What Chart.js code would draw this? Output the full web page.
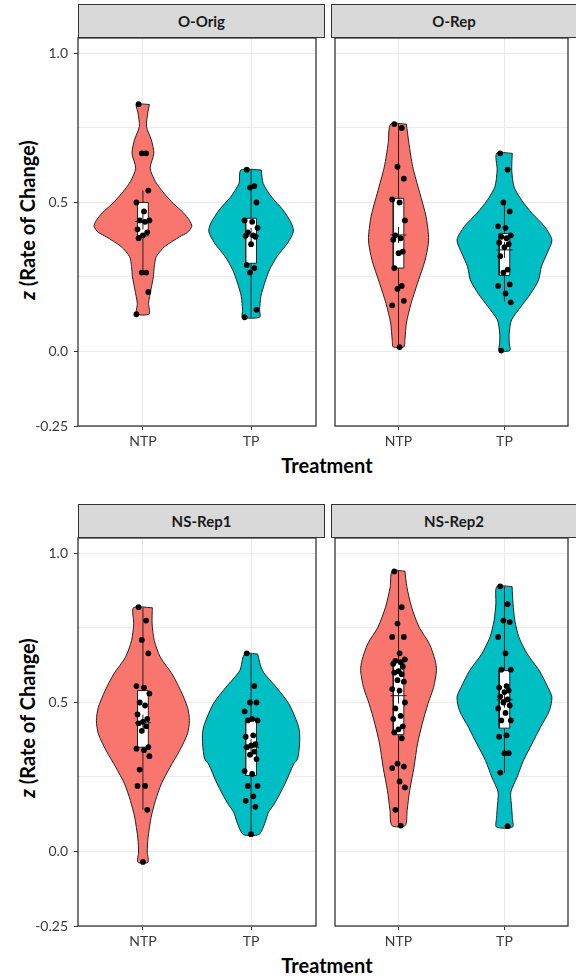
<!DOCTYPE html>
<html>
<head>
<meta charset="utf-8">
<script src="https://cdn.jsdelivr.net/npm/chart.js@4.4.1/dist/chart.umd.min.js"></script>
<style>
  html, body { margin: 0; padding: 0; background: #fff; width: 576px; height: 977px; overflow: hidden; }
  body { position: relative; font-family: Lato, "Open Sans", sans-serif; }
  canvas { position: absolute; }
  .strip { position: absolute; height: 34px; box-sizing: border-box; background: #d9d9d9;
           border: 1.3px solid #333; display: flex; align-items: center; justify-content: center;
           font: bold 15px Lato, sans-serif; color: #1a1a1a; }
  .ytitle { position: absolute; width: 300px; height: 24px; line-height: 24px; text-align: center;
            font: bold 20px Lato, sans-serif; color: #000; transform: rotate(-90deg); white-space: nowrap; }
  .xtitle { position: absolute; width: 200px; height: 24px; line-height: 24px; text-align: center;
            font: bold 20px Lato, sans-serif; color: #000; }
</style>
</head>
<body>
<div class="strip" style="left:78px;top:4px;width:247px">O-Orig</div>
<div class="strip" style="left:331px;top:4px;width:246px">O-Rep</div>
<div class="strip" style="left:78px;top:504px;width:247px">NS-Rep1</div>
<div class="strip" style="left:331px;top:504px;width:246px">NS-Rep2</div>
<div class="ytitle" style="left:-123px;top:208px"><i>z</i> (Rate of Change)</div>
<div class="ytitle" style="left:-123px;top:706px"><i>z</i> (Rate of Change)</div>
<div class="xtitle" style="left:227px;top:453px">Treatment</div>
<div class="xtitle" style="left:227px;top:953px">Treatment</div>

<canvas id="c0" width="325" height="460" style="left:0;top:18px"></canvas>
<canvas id="c1" width="251" height="460" style="left:326px;top:18px"></canvas>
<canvas id="c2" width="325" height="460" style="left:0;top:518px"></canvas>
<canvas id="c3" width="251" height="460" style="left:326px;top:518px"></canvas>

<script>
const TREATMENTS = ['NTP', 'TP'];
const Y_TICKS = [-0.25, 0, 0.5, 1.0];
const Y_TICK_LABELS = ['-0.25', '0.0', '0.5', '1.0'];
const Y_GRID = [-0.25, 0, 0.25, 0.5, 0.75, 1.0];
const Y_MIN = -0.25, Y_MAX = 1.052;

// observed z values (jittered dots)
const oOrigNTP = [0.83, 0.665, 0.665, 0.54, 0.50, 0.47, 0.44, 0.44, 0.435, 0.41, 0.40, 0.39, 0.38, 0.265, 0.265, 0.20, 0.125];
const oOrigTP = [0.61, 0.555, 0.55, 0.50, 0.44, 0.435, 0.415, 0.40, 0.39, 0.388, 0.385, 0.36, 0.29, 0.28, 0.265, 0.14, 0.115];
const oRepNTP = [0.763, 0.75, 0.62, 0.58, 0.51, 0.50, 0.44, 0.39, 0.38, 0.375, 0.335, 0.33, 0.28, 0.22, 0.21, 0.17, 0.155, 0.015];
const oRepTP = [0.665, 0.61, 0.50, 0.47, 0.42, 0.415, 0.39, 0.385, 0.38, 0.365, 0.36, 0.35, 0.32, 0.275, 0.265, 0.225, 0.22, 0.195, 0.165, 0.003];
const nsRep1NTP = [0.82, 0.775, 0.71, 0.665, 0.555, 0.55, 0.53, 0.50, 0.49, 0.46, 0.445, 0.435, 0.43, 0.42, 0.405, 0.35, 0.345, 0.34, 0.32, 0.275, 0.22, 0.22, 0.14, -0.035];
const nsRep1TP = [0.665, 0.555, 0.50, 0.50, 0.47, 0.445, 0.44, 0.44, 0.39, 0.385, 0.36, 0.355, 0.35, 0.335, 0.325, 0.31, 0.27, 0.26, 0.22, 0.22, 0.185, 0.17, 0.15, 0.058];
const nsRep2NTP = [0.94, 0.82, 0.765, 0.72, 0.72, 0.665, 0.645, 0.64, 0.635, 0.63, 0.62, 0.605, 0.60, 0.595, 0.575, 0.57, 0.545, 0.54, 0.50, 0.48, 0.455, 0.445, 0.42, 0.41, 0.40, 0.38, 0.295, 0.285, 0.28, 0.235, 0.215, 0.14, 0.087];
const nsRep2TP = [0.89, 0.83, 0.775, 0.77, 0.72, 0.665, 0.61, 0.61, 0.555, 0.55, 0.54, 0.535, 0.52, 0.51, 0.50, 0.49, 0.48, 0.465, 0.44, 0.44, 0.39, 0.385, 0.33, 0.33, 0.265, 0.085];

// box stats: [whisker low, q1, mean, q3, whisker high]
const oOrigNTPBox = [0.264, 0.388, 0.436, 0.50, 0.54];
const oOrigTPBox = [0.115, 0.296, 0.388, 0.447, 0.609];
const oRepNTPBox = [0.015, 0.28, 0.391, 0.514, 0.763];
const oRepTPBox = [0.168, 0.255, 0.341, 0.396, 0.494];
const nsRep1NTPBox = [0.14, 0.35, 0.432, 0.54, 0.818];
const nsRep1TPBox = [0.057, 0.255, 0.35, 0.44, 0.663];
const nsRep2NTPBox = [0.087, 0.392, 0.523, 0.639, 0.941];
const nsRep2TPBox = [0.264, 0.414, 0.509, 0.607, 0.889];

// violin density profiles: z levels and half-widths (x-axis units)
const oOrigNTPLevels = [0.829, 0.80, 0.755, 0.71, 0.665, 0.615, 0.57, 0.53, 0.495, 0.465, 0.44, 0.42, 0.40, 0.385, 0.352, 0.318, 0.285, 0.251, 0.207, 0.162, 0.126];
const oOrigNTPWidths = [0.060, 0.045, 0.033, 0.078, 0.101, 0.067, 0.116, 0.197, 0.286, 0.376, 0.430, 0.452, 0.412, 0.340, 0.201, 0.123, 0.105, 0.097, 0.074, 0.052, 0.058];
const oOrigTPLevels = [0.609, 0.564, 0.519, 0.475, 0.43, 0.402, 0.363, 0.318, 0.274, 0.229, 0.184, 0.14, 0.115];
const oOrigTPWidths = [0.094, 0.112, 0.188, 0.295, 0.373, 0.391, 0.336, 0.239, 0.170, 0.125, 0.090, 0.079, 0.079];
const oRepNTPLevels = [0.763, 0.698, 0.62, 0.531, 0.452, 0.374, 0.307, 0.229, 0.162, 0.095, 0.039, 0.015];
const oRepNTPWidths = [0.074, 0.098, 0.134, 0.201, 0.260, 0.284, 0.251, 0.179, 0.119, 0.074, 0.060, 0.049];
const oRepTPLevels = [0.665, 0.609, 0.553, 0.508, 0.464, 0.419, 0.374, 0.33, 0.285, 0.24, 0.196, 0.151, 0.106, 0.062, 0.028, 0.003];
const oRepTPWidths = [0.074, 0.069, 0.090, 0.161, 0.260, 0.380, 0.448, 0.403, 0.349, 0.322, 0.251, 0.157, 0.067, 0.045, 0.045, 0.051];
const nsRep1NTPLevels = [0.818, 0.764, 0.708, 0.652, 0.596, 0.54, 0.484, 0.44, 0.395, 0.339, 0.283, 0.227, 0.171, 0.115, 0.045, -0.002, -0.036];
const nsRep1NTPWidths = [0.087, 0.085, 0.105, 0.161, 0.269, 0.349, 0.412, 0.430, 0.412, 0.340, 0.251, 0.170, 0.116, 0.076, 0.047, 0.040, 0.047];
const nsRep1TPLevels = [0.663, 0.607, 0.551, 0.496, 0.429, 0.40, 0.361, 0.311, 0.294, 0.227, 0.16, 0.132, 0.093, 0.057];
const nsRep1TPWidths = [0.060, 0.105, 0.233, 0.349, 0.430, 0.448, 0.448, 0.430, 0.394, 0.313, 0.215, 0.161, 0.125, 0.072];
const nsRep2NTPLevels = [0.941, 0.887, 0.82, 0.753, 0.697, 0.641, 0.607, 0.551, 0.496, 0.429, 0.361, 0.283, 0.205, 0.138, 0.087];
const nsRep2NTPWidths = [0.060, 0.079, 0.123, 0.194, 0.291, 0.346, 0.358, 0.331, 0.278, 0.224, 0.179, 0.146, 0.105, 0.081, 0.063];
const nsRep2TPLevels = [0.889, 0.831, 0.775, 0.719, 0.663, 0.607, 0.551, 0.518, 0.473, 0.417, 0.361, 0.305, 0.249, 0.199, 0.143, 0.115, 0.082];
const nsRep2TPWidths = [0.072, 0.081, 0.098, 0.137, 0.215, 0.329, 0.410, 0.448, 0.425, 0.340, 0.260, 0.179, 0.119, 0.060, 0.069, 0.074, 0.076];

// styling
const FILLS = ['#F8766D', '#00BFC4'];
const INK = '#222';
const BOX_HALF = 0.05;
const JITTER = [-0.04, 0.03, -0.01, 0.05, -0.06, 0.01, 0.06, -0.03, 0.02, -0.05, 0.04, 0.0];

function violinPath(c, levels, widths) {
  const right = levels.map((y, i) => ({ x: c + widths[i], y }));
  const left = levels.map((y, i) => ({ x: c - widths[i], y })).reverse();
  return right.concat(left, [right[0]]);
}

function boxPath(c, q1, q3) {
  return [
    { x: c - BOX_HALF, y: q1 }, { x: c + BOX_HALF, y: q1 },
    { x: c + BOX_HALF, y: q3 }, { x: c - BOX_HALF, y: q3 }, { x: c - BOX_HALF, y: q1 }
  ];
}

function buildDatasets(groups) {
  const ds = [];
  groups.forEach((g, i) => {
    const c = i + 1;
    const [lo, q1, mean, q3, hi] = g.box;
    ds.push({ data: violinPath(c, g.levels, g.widths), showLine: true, fill: 'shape',
      backgroundColor: FILLS[i], borderColor: INK, borderWidth: 1, pointRadius: 0, tension: 0.25, order: 5 });
    ds.push({ data: [{ x: c, y: lo }, { x: c, y: hi }], showLine: true, fill: false,
      borderColor: INK, borderWidth: 1, pointRadius: 0, order: 4 });
    ds.push({ data: boxPath(c, q1, q3), showLine: true, fill: 'shape', backgroundColor: '#fff',
      borderColor: INK, borderWidth: 1, pointRadius: 0, tension: 0, order: 3 });
    ds.push({ data: [{ x: c, y: mean }], pointStyle: 'cross', pointRadius: 8,
      pointBorderColor: INK, pointBorderWidth: 1, order: 2 });
    ds.push({ data: g.values.map((v, k) => ({ x: c + JITTER[k % JITTER.length], y: v })),
      pointRadius: 2.9, pointBackgroundColor: '#000', pointBorderWidth: 0, order: 1 });
  });
  return ds;
}

const panelBorder = {
  id: 'panelBorder',
  afterDraw(chart) {
    const { ctx, chartArea: a } = chart;
    ctx.save();
    ctx.strokeStyle = '#333';
    ctx.lineWidth = 1.3;
    ctx.strokeRect(a.left, a.top, a.right - a.left, a.bottom - a.top);
    ctx.restore();
  }
};

function makePanel(id, showY, groups) {
  new Chart(document.getElementById(id), {
    type: 'scatter',
    data: { datasets: buildDatasets(groups) },
    plugins: [panelBorder],
    options: {
      responsive: false,
      animation: false,
      events: [],
      layout: { padding: { top: 20, right: showY ? 1 : 0, left: 0, bottom: 0 } },
      plugins: { legend: { display: false }, tooltip: { enabled: false } },
      scales: {
        x: {
          type: 'linear', min: 0.4, max: 2.6,
          afterBuildTicks: s => { s.ticks = [1, 2].map(v => ({ value: v })); },
          afterFit: s => { s.height = 52; },
          ticks: { callback: v => TREATMENTS[v - 1], color: '#3a3a3a', padding: 3, maxRotation: 0,
                   autoSkip: false, font: { family: 'Lato', size: 14 } },
          grid: { color: '#ebebeb', tickColor: '#333', tickLength: 4 },
          border: { display: false }
        },
        y: {
          min: Y_MIN, max: Y_MAX,
          afterBuildTicks: s => { s.ticks = Y_GRID.map(v => ({ value: v })); },
          afterFit: s => { s.width = showY ? 78 : 5; },
          ticks: {
            display: showY,
            callback: v => { const k = Y_TICKS.indexOf(v); return k < 0 ? '' : Y_TICK_LABELS[k]; },
            color: '#3a3a3a', padding: 6, font: { family: 'Lato', size: 14 }
          },
          grid: {
            color: '#ebebeb', tickLength: 4, drawTicks: showY,
            tickColor: c => Y_TICKS.includes(c.tick.value) ? '#333' : 'rgba(0,0,0,0)'
          },
          border: { display: false }
        }
      }
    }
  });
}

makePanel('c0', true, [
  { values: oOrigNTP, box: oOrigNTPBox, levels: oOrigNTPLevels, widths: oOrigNTPWidths },
  { values: oOrigTP, box: oOrigTPBox, levels: oOrigTPLevels, widths: oOrigTPWidths }
]);
makePanel('c1', false, [
  { values: oRepNTP, box: oRepNTPBox, levels: oRepNTPLevels, widths: oRepNTPWidths },
  { values: oRepTP, box: oRepTPBox, levels: oRepTPLevels, widths: oRepTPWidths }
]);
makePanel('c2', true, [
  { values: nsRep1NTP, box: nsRep1NTPBox, levels: nsRep1NTPLevels, widths: nsRep1NTPWidths },
  { values: nsRep1TP, box: nsRep1TPBox, levels: nsRep1TPLevels, widths: nsRep1TPWidths }
]);
makePanel('c3', false, [
  { values: nsRep2NTP, box: nsRep2NTPBox, levels: nsRep2NTPLevels, widths: nsRep2NTPWidths },
  { values: nsRep2TP, box: nsRep2TPBox, levels: nsRep2TPLevels, widths: nsRep2TPWidths }
]);
</script>
</body>
</html>
